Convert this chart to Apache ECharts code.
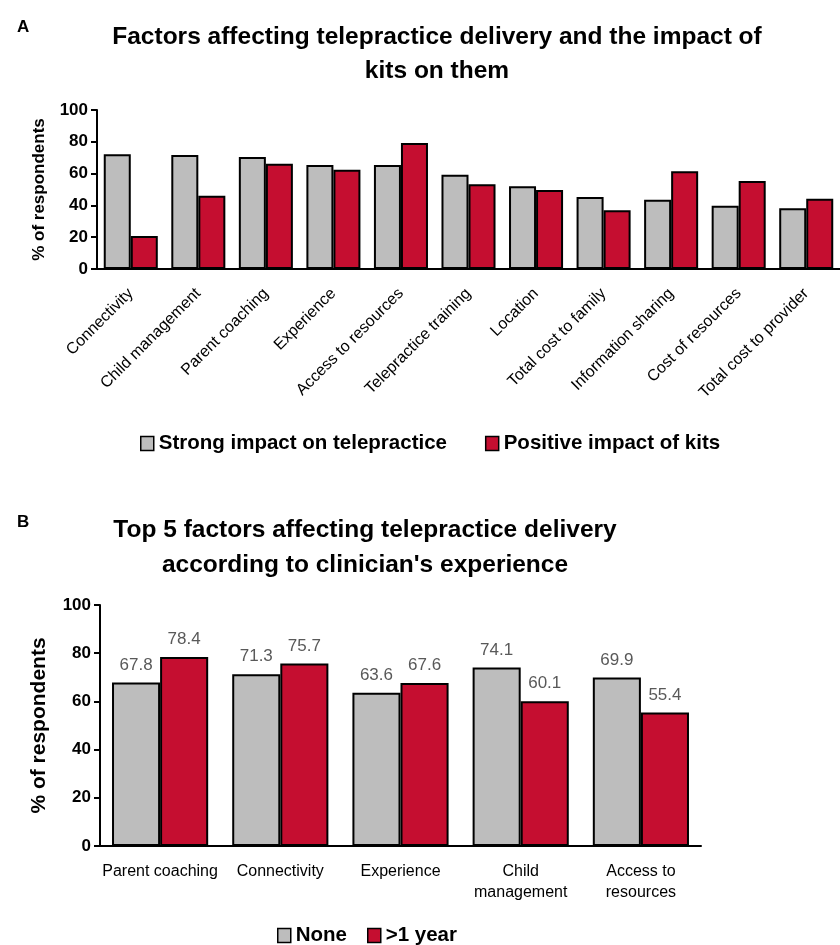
<!DOCTYPE html>
<html>
<head>
<meta charset="utf-8">
<script src="https://cdn.jsdelivr.net/npm/echarts@6/dist/echarts.min.js"></script>
<style>
  html, body { margin: 0; padding: 0; background: #fff; }
  #chart { width: 840px; height: 945px; }
</style>
</head>
<body>
<div id="chart"></div>
<script>
// Panel A: factors affecting telepractice delivery
const factorsA = ['Connectivity', 'Child management', 'Parent coaching', 'Experience',
  'Access to resources', 'Telepractice training', 'Location', 'Total cost to family',
  'Information sharing', 'Cost of resources', 'Total cost to provider'];
const strongImpact = [72.1, 71.7, 70.4, 65.4, 65.4, 59.3, 52.0, 45.3, 43.6, 39.8, 38.2];
const kitsImpact = [20.7, 46.1, 66.2, 62.5, 79.2, 53.3, 49.7, 36.9, 61.4, 55.3, 44.2];

// Panel B: top 5 factors by clinician experience
const factorsB = ['Parent coaching', 'Connectivity', 'Experience', 'Child\nmanagement', 'Access to\nresources'];
const expNone = [67.8, 71.3, 63.6, 74.1, 69.9];
const expOver1 = [78.4, 75.7, 67.6, 60.1, 55.4];

const yTicks = [0, 20, 40, 60, 80, 100];

const FONT = '"Liberation Sans", Arial, sans-serif';
const GREY = '#bdbdbd';
const RED = '#c50e30';

const chart = echarts.init(document.getElementById('chart'));

const barStyle = (color) => ({ color: color, borderColor: '#000', borderWidth: 2 });

const yAxisBase = (gridIndex, nameSize, nameGap) => ({
  gridIndex: gridIndex,
  type: 'value',
  min: yTicks[0],
  max: yTicks[yTicks.length - 1],
  interval: 20,
  name: '% of respondents',
  nameLocation: 'middle',
  nameGap: nameGap,
  nameTextStyle: { fontFamily: FONT, fontWeight: 'bold', fontSize: nameSize, color: '#000' },
  axisLine: { show: true, lineStyle: { color: '#000', width: 2 } },
  axisTick: { show: true, length: 6, lineStyle: { color: '#000', width: 2 } },
  axisLabel: { fontFamily: FONT, fontWeight: 'bold', fontSize: 17, color: '#000', margin: 9 },
  splitLine: { show: false }
});

const legendText = { fontFamily: FONT, fontWeight: 'bold', fontSize: 20.5, color: '#000' };
const legendIcon = { borderColor: '#000', borderWidth: 1.5 };

chart.setOption({
  animation: false,
  backgroundColor: '#fff',
  title: [
    { text: 'A', left: 12, top: 14, textStyle: { fontFamily: FONT, fontWeight: 'bold', fontSize: 17, color: '#000' } },
    { text: 'Factors affecting telepractice delivery and the impact of\nkits on them', left: 432, top: 15, textAlign: 'center',
      textStyle: { fontFamily: FONT, fontWeight: 'bold', fontSize: 24.5, lineHeight: 34, color: '#000' } },
    { text: 'B', left: 12, top: 509, textStyle: { fontFamily: FONT, fontWeight: 'bold', fontSize: 17, color: '#000' } },
    { text: 'Top 5 factors affecting telepractice delivery\naccording to clinician\'s experience', left: 360, top: 508, textAlign: 'center',
      textStyle: { fontFamily: FONT, fontWeight: 'bold', fontSize: 24.5, lineHeight: 35, color: '#000' } }
  ],
  legend: [
    { data: ['Strong impact on telepractice', 'Positive impact of kits'], left: 135, top: 428,
      icon: 'rect', itemWidth: 13, itemHeight: 14, itemGap: 38, itemStyle: legendIcon,
      textStyle: legendText },
    { data: ['None', '>1 year'], left: 272, top: 920,
      icon: 'rect', itemWidth: 13, itemHeight: 14, itemGap: 20, itemStyle: legendIcon,
      textStyle: legendText }
  ],
  grid: [
    { left: 97, top: 110, width: 746, height: 159 },
    { left: 100, top: 605, width: 601, height: 241 }
  ],
  xAxis: [
    { gridIndex: 0, type: 'category', data: factorsA,
      axisLine: { lineStyle: { color: '#000', width: 2 } }, axisTick: { show: false },
      axisLabel: { rotate: 45, fontFamily: FONT, fontSize: 16, color: '#000', margin: 22, interval: 0 } },
    { gridIndex: 1, type: 'category', data: factorsB,
      axisLine: { lineStyle: { color: '#000', width: 2 } }, axisTick: { show: false },
      axisLabel: { fontFamily: FONT, fontSize: 16, color: '#000', margin: 15, interval: 0, lineHeight: 21 } }
  ],
  yAxis: [yAxisBase(0, 17, 49), yAxisBase(1, 21, 50)],
  series: [
    { name: 'Strong impact on telepractice', type: 'bar', xAxisIndex: 0, yAxisIndex: 0,
      data: strongImpact, barGap: '0%', barCategoryGap: '20%', itemStyle: barStyle(GREY) },
    { name: 'Positive impact of kits', type: 'bar', xAxisIndex: 0, yAxisIndex: 0,
      data: kitsImpact, barGap: '0%', barCategoryGap: '20%', itemStyle: barStyle(RED) },
    { name: 'None', type: 'bar', xAxisIndex: 1, yAxisIndex: 1,
      data: expNone, barGap: '0%', barCategoryGap: '20%', itemStyle: barStyle(GREY),
      label: { show: true, position: 'top', distance: 9, fontFamily: FONT, fontSize: 17, color: '#595959',
        formatter: (p) => p.value.toFixed(1) } },
    { name: '>1 year', type: 'bar', xAxisIndex: 1, yAxisIndex: 1,
      data: expOver1, barGap: '0%', barCategoryGap: '20%', itemStyle: barStyle(RED),
      label: { show: true, position: 'top', distance: 9, fontFamily: FONT, fontSize: 17, color: '#595959',
        formatter: (p) => p.value.toFixed(1) } }
  ]
});
</script>
</body>
</html>
